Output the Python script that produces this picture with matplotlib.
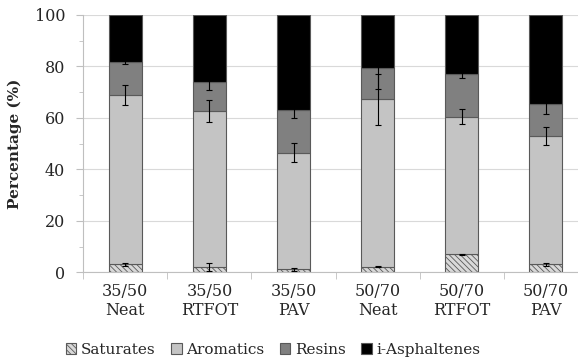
import matplotlib
matplotlib.use("Agg")
import matplotlib.pyplot as plt
import numpy as np

categories = ["35/50\nNeat", "35/50\nRTFOT", "35/50\nPAV", "50/70\nNeat", "50/70\nRTFOT", "50/70\nPAV"]
saturates = [3.1, 2.1, 1.2, 2.2, 7.0, 3.1]
aromatics = [65.8, 60.6, 45.3, 65.0, 53.5, 49.8]
resins = [12.8, 11.4, 16.5, 12.2, 16.5, 12.5]
asphaltenes = [18.3, 25.9, 37.0, 20.6, 23.0, 34.6]
sat_err = [0.5, 1.5, 0.6, 0.3, 0.3, 0.6]
arom_err = [3.8, 4.2, 3.7, 9.8, 2.9, 3.6]
res_err = [0.7, 3.3, 3.2, 8.3, 1.6, 3.9]
series_names = ["Saturates", "Aromatics", "Resins", "i-Asphaltenes"]

plt.rcParams['font.family'] = ['DejaVu Serif']
plt.rcParams['hatch.color'] = '#6f6f6f'
plt.rcParams['hatch.linewidth'] = 0.6

fig = plt.figure(figsize=(5.78, 3.62), dpi=100)
ax = fig.add_axes([0.1441, 0.2478, 0.873, 0.7108])

x = np.arange(len(categories))
w = 0.396
edge = '#595959'
sat = np.array(saturates); aro = np.array(aromatics); res = np.array(resins); asp = np.array(asphaltenes)

b1 = ax.bar(x, sat, w, color='#d9d9d9', edgecolor=edge, linewidth=0.8, hatch='\\\\\\\\\\\\', zorder=2, label=series_names[0])
b2 = ax.bar(x, aro, w, bottom=sat, color='#c4c4c4', edgecolor=edge, linewidth=0.8, zorder=2, label=series_names[1])
b3 = ax.bar(x, res, w, bottom=sat + aro, color='#808080', edgecolor=edge, linewidth=0.8, zorder=2, label=series_names[2])
b4 = ax.bar(x, asp, w, bottom=sat + aro + res, color='#000000', edgecolor=edge, linewidth=0.8, zorder=2, label=series_names[3])

ekw = dict(fmt='none', ecolor='black', elinewidth=0.8, capsize=2.5, capthick=0.8, zorder=3)
ax.errorbar(x, sat, yerr=sat_err, **ekw)
ax.errorbar(x, sat + aro, yerr=arom_err, **ekw)
ax.errorbar(x, sat + aro + res, yerr=res_err, **ekw)

ax.set_xlim(-0.5, len(categories) - 0.5)
ax.set_ylim(0, 100)
ax.set_yticks(np.arange(0, 101, 20))
ax.set_yticks(np.arange(0, 101, 10), minor=True)
ax.set_xticks(x)
ax.set_xticklabels(categories, fontsize=11.5, linespacing=1.1)
ax.set_xticks(np.arange(-0.5, len(categories), 1.0), minor=True)
ax.tick_params(axis='x', which='major', length=0, pad=8, colors='#262626')
ax.tick_params(axis='x', which='minor', length=5, color='#bfbfbf', direction='out')
ax.tick_params(axis='y', which='major', length=5, color='#bfbfbf', labelsize=11.5, pad=8, labelcolor='#262626')
ax.tick_params(axis='y', which='minor', length=3, color='#bfbfbf')
ax.grid(axis='y', which='major', color='#d9d9d9', linewidth=0.8, zorder=0)
ax.set_axisbelow(True)
for s in ['top', 'right']:
    ax.spines[s].set_visible(False)
for s in ['left', 'bottom']:
    ax.spines[s].set_color('#bfbfbf')
    ax.spines[s].set_linewidth(0.8)

ax.set_ylabel("Percentage (%)", fontsize=11, fontweight='bold', color='#262626')
ax.yaxis.set_label_coords(-0.122, 0.5)

leg = fig.legend(handles=[b1, b2, b3, b4], labels=series_names, loc='center', bbox_to_anchor=(273 / 578, 1 - 350 / 362),
                 ncol=4, frameon=False, fontsize=11, handlelength=0.7, handleheight=0.7,
                 handletextpad=0.3, columnspacing=1.0, borderaxespad=0)
for t in leg.get_texts():
    t.set_color('#262626')

fig.savefig("out.png", dpi=100)
